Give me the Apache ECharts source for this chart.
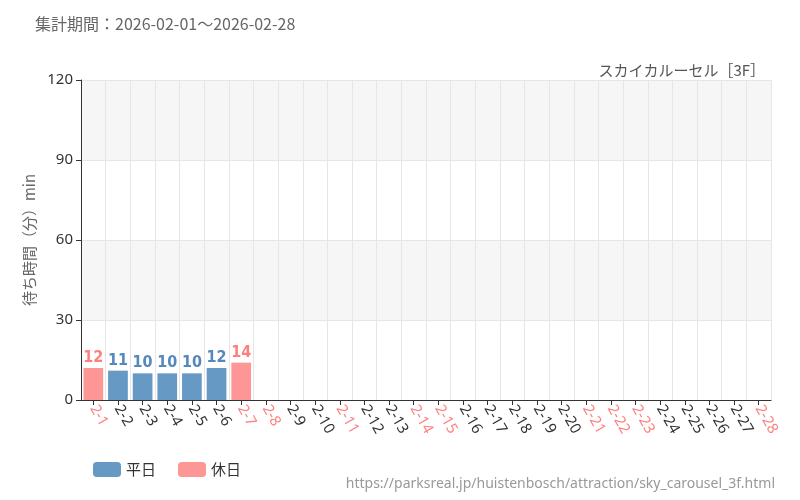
<!DOCTYPE html>
<html><head><meta charset="utf-8">
<script src="https://cdn.jsdelivr.net/npm/echarts@6/dist/echarts.min.js"></script>
<style>html,body{margin:0;padding:0;background:#fff}#c{width:800px;height:500px}</style>
</head><body><div id="c"></div>
<script>
const categories = ['2-1','2-2','2-3','2-4','2-5','2-6','2-7','2-8','2-9','2-10','2-11','2-12','2-13','2-14','2-15','2-16','2-17','2-18','2-19','2-20','2-21','2-22','2-23','2-24','2-25','2-26','2-27','2-28'];
const holidays = ['2-1','2-7','2-8','2-11','2-14','2-15','2-21','2-22','2-23','2-28'];
const waitValues = [12,11,10,10,10,12,14];
const yTicks = [0,30,60,90,120];
const weekday = categories.map((c,i)=> (i<waitValues.length && !holidays.includes(c)) ? waitValues[i] : null);
const holiday = categories.map((c,i)=> (i<waitValues.length && holidays.includes(c)) ? waitValues[i] : null);
const BLUE='#6699c4', RED='#ff9696';
const lbl = c => ({show:true,position:'top',distance:2,color:c,fontFamily:'"Liberation Sans Narrow","DejaVu Sans Condensed",sans-serif',fontWeight:'bold',fontSize:16});
const chart = echarts.init(document.getElementById('c'));
chart.setOption({
  animation:false,
  title:[
    {text:'集計期間：2026-02-01～2026-02-28',left:30,top:11,textStyle:{fontSize:16,fontWeight:'normal',color:'#666',fontFamily:'"Noto Sans CJK JP",sans-serif'}},
    {text:'スカイカルーセル［3F］',right:30,top:58,textStyle:{fontSize:15,fontWeight:'normal',color:'#555',fontFamily:'"Noto Sans CJK JP",sans-serif'}},
    {text:'https://parksreal.jp/huistenbosch/attraction/sky_carousel_3f.html',right:20,top:472,textStyle:{fontSize:14,fontWeight:'normal',color:'#999',fontFamily:'"Noto Sans",sans-serif'}}
  ],
  legend:{left:88,top:457,itemWidth:28,itemHeight:15,itemGap:22,textStyle:{fontSize:15,color:'#333',fontFamily:'"Noto Sans CJK JP",sans-serif'},data:['平日','休日']},
  grid:{left:81,right:29,top:80,bottom:100},
  xAxis:{type:'category',data:categories,
    axisLine:{lineStyle:{color:'#333'}},axisTick:{show:true,alignWithLabel:true,lineStyle:{color:'#333'}},
    splitLine:{show:true,lineStyle:{color:'#e6e6e6'}},
    axisLabel:{interval:0,rotate:-60,fontSize:15,fontFamily:'"Noto Sans",sans-serif',margin:6,
      color:(v)=>holidays.includes(v)?'#ff8080':'#333'}},
  yAxis:{type:'value',min:0,max:120,interval:30,name:'待ち時間（分）min',nameLocation:'middle',nameGap:44,
    nameTextStyle:{fontSize:15,color:'#666',fontFamily:'"Noto Sans CJK JP",sans-serif'},
    axisLine:{show:true,lineStyle:{color:'#333'}},axisTick:{show:true,lineStyle:{color:'#333'}},
    axisLabel:{fontSize:15,color:'#333',fontFamily:'"Noto Sans",sans-serif',formatter:v=>yTicks.includes(v)?String(v):''},
    splitLine:{lineStyle:{color:'#e6e6e6'}},
    splitArea:{show:true,areaStyle:{color:['#ffffff','#f6f6f6']}}},
  series:[
    {name:'平日',type:'bar',data:weekday,barWidth:'80%',barGap:'-100%',itemStyle:{color:BLUE},label:lbl('#5588bb')},
    {name:'休日',type:'bar',data:holiday,barWidth:'80%',barGap:'-100%',itemStyle:{color:RED},label:lbl('#ff7f7f')}
  ]
});
</script></body></html>
